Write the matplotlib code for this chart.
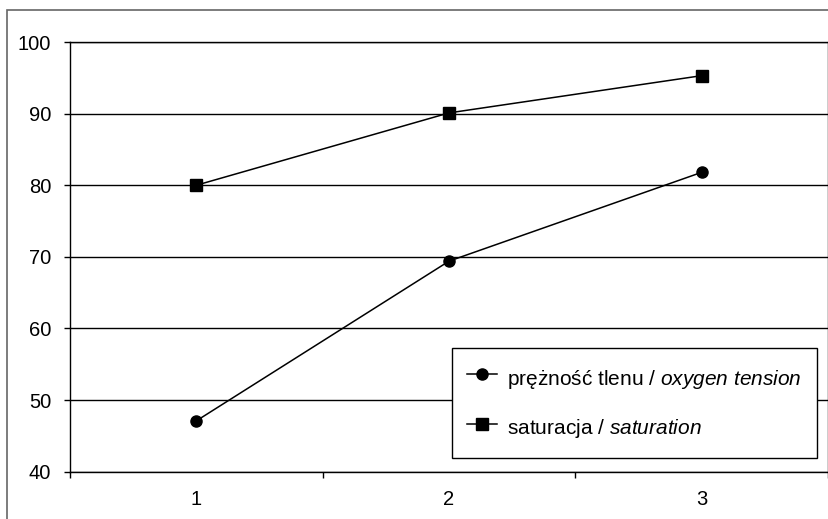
import matplotlib.pyplot as plt
from matplotlib.patches import Rectangle

plt.rcParams['font.family'] = ['Liberation Sans', 'DejaVu Sans']
plt.rcParams['mathtext.fontset'] = 'custom'
plt.rcParams['mathtext.rm'] = 'Liberation Sans'
plt.rcParams['mathtext.it'] = 'Liberation Sans:italic'

categories = [1, 2, 3]
oxygen_tension = [47.1, 69.4, 81.8]
saturation = [80.0, 90.1, 95.3]
label_tension = r'prężność tlenu / $\mathit{oxygen\ tension}$'
label_saturation = r'saturacja / $\mathit{saturation}$'
y_ticks = [40, 50, 60, 70, 80, 90, 100]

fig = plt.figure(figsize=(8.29, 5.19), dpi=100)
ax = fig.add_axes([70 / 829, 47.3 / 519, 758 / 829, 429.7 / 519])

# outer chart frame (cropped on right and bottom)
fig.patches.append(Rectangle((7 / 829, -0.1), 1.2, (519 - 9.5) / 519 + 0.1,
                             transform=fig.transFigure, fill=False,
                             edgecolor='#666666', linewidth=1.2))

ax.plot(categories, oxygen_tension, color='black', lw=1.1, marker='o',
        markersize=8, label=label_tension)
ax.plot(categories, saturation, color='black', lw=1.1, marker='s',
        markersize=8, label=label_saturation)

ax.set_xlim(0.5, 3.5)
ax.set_ylim(40, 100)
ax.set_yticks(y_ticks)
ax.yaxis.grid(True, color='black', lw=1.0)
ax.set_axisbelow(True)

ax.set_xticks(categories)
ax.set_xticks([0.5, 1.5, 2.5, 3.5], minor=True)
ax.tick_params(axis='x', which='major', length=0, pad=13, labelsize=14.5)
ax.tick_params(axis='x', which='minor', length=4.5, width=1, direction='out')
ax.tick_params(axis='y', length=4.5, width=1, direction='out', pad=9,
               labelsize=14.5)

for s in ax.spines.values():
    s.set_color('black')
    s.set_linewidth(1.0)

leg = ax.legend(loc='lower right', bbox_to_anchor=(0.9855, 0.032),
                fontsize=15, numpoints=1, handlelength=1.45,
                handleheight=1.8, labelspacing=0.95, borderpad=0.75,
                handletextpad=0.45, fancybox=False, framealpha=1,
                borderaxespad=0)
leg.get_frame().set_edgecolor('black')
leg.get_frame().set_linewidth(1.0)

fig.savefig('out.png', dpi=100)
